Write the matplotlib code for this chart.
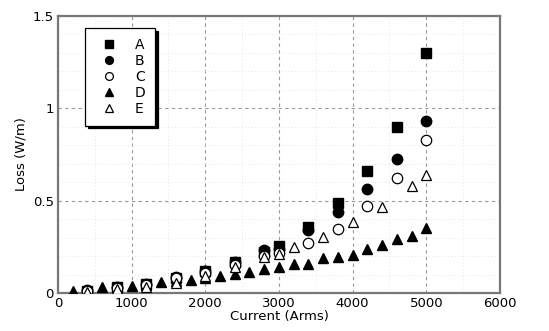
import matplotlib
matplotlib.use("Agg")
import matplotlib.pyplot as plt
import numpy as np

x_abc = [400, 800, 1200, 1600, 2000, 2400, 2800, 3000, 3400, 3800, 4200, 4600, 5000]
A = [0.012, 0.03, 0.05, 0.08, 0.12, 0.17, 0.22, 0.256, 0.356, 0.487, 0.659, 0.90, 1.30]
B = [0.015, 0.03, 0.05, 0.085, 0.12, 0.17, 0.235, 0.24, 0.34, 0.437, 0.565, 0.727, 0.93]
C = [0.01, 0.025, 0.045, 0.08, 0.11, 0.15, 0.20, 0.217, 0.273, 0.347, 0.473, 0.623, 0.828]
x_d = [200, 400, 600, 800, 1000, 1200, 1400, 1600, 1800, 2000, 2200, 2400, 2600, 2800,
       3000, 3200, 3400, 3600, 3800, 4000, 4200, 4400, 4600, 4800, 5000]
D = [0.01, 0.015, 0.03, 0.03, 0.04, 0.045, 0.06, 0.065, 0.07, 0.08, 0.094, 0.105, 0.112, 0.128,
     0.139, 0.157, 0.159, 0.19, 0.197, 0.204, 0.238, 0.26, 0.292, 0.307, 0.35]
x_e = [400, 800, 1200, 1600, 2000, 2400, 2800, 3000, 3200, 3600, 4000, 4400, 4800, 5000]
E = [0.005, 0.02, 0.035, 0.055, 0.09, 0.14, 0.193, 0.213, 0.247, 0.303, 0.383, 0.466, 0.578, 0.64]

fig = plt.figure(figsize=(5.49, 3.31), dpi=100)
ax = fig.add_axes([0.1056, 0.1148, 0.805, 0.837])

ms = 7.5
ax.plot(x_abc, A, ls='none', marker='s', color='black', ms=ms, label='A', zorder=3)
ax.plot(x_abc, B, ls='none', marker='o', color='black', ms=ms, label='B', zorder=3)
ax.plot(x_abc, C, ls='none', marker='o', mfc='white', mec='black', mew=0.9, ms=ms, label='C', zorder=4)
ax.plot(x_d, D, ls='none', marker='^', color='black', ms=ms, label='D', zorder=3)
ax.plot(x_e, E, ls='none', marker='^', mfc='white', mec='black', mew=0.9, ms=ms, label='E', zorder=4)

ax.set_xlim(0, 6000)
ax.set_ylim(0, 1.5)
ax.set_xticks([0, 1000, 2000, 3000, 4000, 5000, 6000])
ax.set_yticks([0, 0.5, 1.0, 1.5])
ax.set_yticklabels(['0', '0.5', '1', '1.5'])
ax.set_xticks(np.arange(0, 6001, 500), minor=True)
ax.set_yticks(np.arange(0, 1.51, 0.1), minor=True)
ax.grid(which='major', ls=(0, (3, 3)), color='#999999', lw=0.8)
ax.grid(which='minor', ls=(0, (1, 3)), color='#dddddd', lw=0.6)
ax.tick_params(which='both', length=0, labelsize=9.5, pad=3)
for s in ax.spines.values():
    s.set_color('#777777')
    s.set_linewidth(1.6)

ax.set_xlabel('Current (Arms)', fontsize=9.5, labelpad=0)
ax.set_ylabel('Loss (W/m)', fontsize=9.5, labelpad=4)

leg = ax.legend(loc='upper left', bbox_to_anchor=(0.061, 0.957), fontsize=10,
                frameon=True, fancybox=False, shadow={'color': 'black', 'alpha': 1},
                edgecolor='black', framealpha=1, handletextpad=0.9, labelspacing=0.15,
                borderpad=0.7, handlelength=2.0, borderaxespad=0, markerscale=0.75)
leg.get_frame().set_linewidth(0.9)

fig.savefig('out.png', dpi=100)
